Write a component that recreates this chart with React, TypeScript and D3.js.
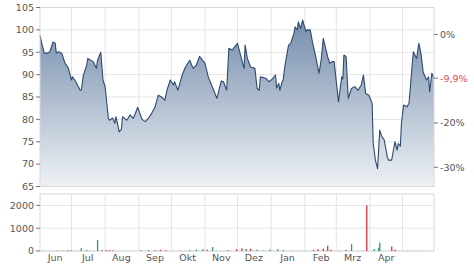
import React from "react";
import * as d3 from "d3";

const START = "2019-06-02";
const END = "2020-05-30";

// price series: day offset from START, price
const priceDays = [0,2,4,7,9,12,14,15,17,20,23,26,29,30,33,37,38,40,43,44,49,52,53,56,58,60,63,64,67,69,70,73,75,76,80,83,86,90,94,97,100,103,106,109,112,115,117,120,121,123,124,127,131,134,138,141,144,147,152,155,160,163,167,169,172,174,177,182,183,188,189,191,194,198,200,202,203,208,211,214,217,218,220,221,223,224,226,229,231,234,235,237,238,240,242,245,246,249,251,254,257,259,261,265,267,269,271,275,278,279,280,282,284,287,290,293,296,298,300,303,306,307,309,311,313,315,317,320,321,324,327,329,330,332,333,335,338,340,343,344,347,349,351,353,356,358,359,361,363];
const priceValues = [98.8,96.6,94.8,94.8,95.1,97.3,97,94.8,95.1,94.8,92.6,91.5,88.8,89.5,88.4,86.5,86.5,89.9,92.1,93.6,92.9,91.4,93.2,95,88.8,87.3,80.2,79.8,80.3,79.1,80.6,77.2,77.8,80.6,79.8,81,80.2,82.7,80,79.5,80.3,81.4,82.8,85.4,85,84.3,86.5,88.8,88.4,87.7,88.4,86.5,89.9,91.7,93.2,91.4,92.1,94.1,92.5,89.5,86.5,84.7,88.6,88.4,86.5,95.9,95.5,97,96,91.4,96.6,93.7,91.7,91.4,86.9,86.5,89.5,89.2,88.4,89,89.9,87,88,86.5,88.4,88.8,92.5,96.6,97,99.2,100.7,100,101.8,100.3,102.2,99.6,100,100,97.3,94,90.3,93.2,98.1,94,92.5,92.9,92.9,83.9,89.5,89,94.4,94,84.7,86.9,87.3,86.5,87.7,89.9,85.8,85.4,83.6,74.6,70.9,69,77.6,76.1,75.5,71.6,70.9,70.9,75,73.1,74.6,74,79.1,83.2,82.8,83.6,92.5,95.1,93.6,97,94.7,90.6,88.8,89.5,86.2,90.3,89.2];

// volume series
const volDays = [3,16,21,26,29,38,43,53,57,61,64,67,93,100,106,111,116,129,138,144,150,154,159,173,181,186,190,194,200,206,212,219,224,232,238,245,252,256,261,265,268,276,282,287,301,308,312,313,324,327,338,346,351];
const volValues = [20,20,25,30,30,120,40,480,40,50,40,30,25,40,35,50,40,30,40,60,80,60,170,40,80,120,90,100,60,50,60,80,40,30,30,20,50,80,100,230,60,30,50,300,2000,80,140,370,200,60,20,25,20];
const volDir = ["n","d","n","d","d","u","u","u","d","d","d","d","d","u","d","d","d","n","u","u","u","d","u","d","d","d","u","d","u","n","u","u","u","n","n","n","d","d","d","d","d","n","u","u","d","u","u","u","d","d","n","n","n"];

const priceTicks = [65,70,75,80,85,90,95,100,105];
const volTicks = [0,1000,2000];
const pctTicks = [0,-20,-30];
const refPrice = 99;
const lastPct = -9.9;
const monthLabels = ["Jun","Jul","Aug","Sep","Okt","Nov","Dez","Jan","Feb","Mrz","Apr"];

const L = 40, R = 434;
const FONT = "DejaVu Sans, Verdana, sans-serif";

export default function App() {
  const start = new Date(START + "T00:00:00");
  const end = new Date(END + "T00:00:00");
  const x = d3.scaleTime().domain([start, end]).range([L, R]);
  const yP = d3.scaleLinear().domain([65, 105]).range([186.5, 7.5]);
  const yV = d3.scaleLinear().domain([0, 2500]).range([251, 194]);

  const pts = priceDays.map((d, i) => ({ date: d3.timeDay.offset(start, d), v: priceValues[i] }));
  const line = d3.line<any>().x(p => x(p.date)).y(p => yP(p.v));
  const area = d3.area<any>().x(p => x(p.date)).y0(yP(65)).y1(p => yP(p.v));

  const monthStarts = d3.timeMonth.range(d3.timeMonth.ceil(start), end);
  const labelDates = monthLabels.map((m, i) => new Date(2019, 5 + i, 16));

  const volColor: Record<string, string> = { u: "#2f9a63", d: "#e0323c", n: "#b8b8b8" };
  const grid = "#e4e4e4";
  const txt = "#555";

  return (
    <svg width={474} height={269} style={{ position: "absolute", left: 0, top: 0, background: "#fff" }} fontFamily={FONT}>
      <defs>
        <linearGradient id="ag" x1="0" y1="0" x2="0" y2="1" gradientUnits="userSpaceOnUse" {...{ x1: 0, y1: 10, x2: 0, y2: 187 }}>
          <stop offset="0" stopColor="#6f88a8" />
          <stop offset="1" stopColor="#eef1f5" />
        </linearGradient>
      </defs>
      {/* price panel grid */}
      {priceTicks.map(t => (
        <line key={"hg" + t} x1={L} x2={R} y1={yP(t)} y2={yP(t)} stroke={grid} strokeWidth={1} />
      ))}
      {monthStarts.map((m, i) => (
        <line key={"vg" + i} x1={x(m)} x2={x(m)} y1={yP(105)} y2={yP(65)} stroke={grid} strokeWidth={1} />
      ))}
      <path d={area(pts) || ""} fill="url(#ag)" />
      <path d={line(pts) || ""} fill="none" stroke="#2d4a6e" strokeWidth={1.1} strokeLinejoin="round" />
      <rect x={L} y={yP(105)} width={R - L} height={yP(65) - yP(105)} fill="none" stroke="#d8d8d8" strokeWidth={1} />
      {/* left price axis */}
      {priceTicks.map(t => (
        <g key={"pt" + t}>
          <line x1={L - 4} x2={L} y1={yP(t)} y2={yP(t)} stroke="#777" />
          <text x={L - 6} y={yP(t)} dy="0.35em" textAnchor="end" fontSize={9.5} fill={txt}>{t}</text>
        </g>
      ))}
      {/* right pct axis */}
      {pctTicks.map(p => (
        <g key={"pc" + p}>
          <line x1={R} x2={R + 4} y1={yP(refPrice * (1 + p / 100))} y2={yP(refPrice * (1 + p / 100))} stroke="#777" />
          <text x={R + 6} y={yP(refPrice * (1 + p / 100))} dy="0.35em" fontSize={9.5} fill={txt}>{(p < 0 ? "-" : "") + Math.abs(p) + "%"}</text>
        </g>
      ))}
      <line x1={R} x2={R + 4} y1={yP(refPrice * (1 + lastPct / 100))} y2={yP(refPrice * (1 + lastPct / 100))} stroke="#777" />
      <text x={R + 6} y={yP(refPrice * (1 + lastPct / 100))} dy="0.35em" fontSize={9.5} fill="#e0474c">{"-" + String(Math.abs(lastPct)).replace(".", ",") + "%"}</text>

      {/* volume panel */}
      {volTicks.map(t => (
        <line key={"vh" + t} x1={L} x2={R} y1={yV(t)} y2={yV(t)} stroke={grid} />
      ))}
      {monthStarts.map((m, i) => (
        <line key={"vv" + i} x1={x(m)} x2={x(m)} y1={yV(2500)} y2={yV(0)} stroke={grid} />
      ))}
      <rect x={L} y={yV(2500)} width={R - L} height={yV(0) - yV(2500)} fill="none" stroke="#d8d8d8" />
      {volDays.map((d, i) => {
        const xx = x(d3.timeDay.offset(start, d));
        return <rect key={"vb" + i} x={xx - 0.6} width={1.3} y={yV(volValues[i])} height={yV(0) - yV(volValues[i])} fill={volColor[volDir[i]]} />;
      })}
      {volTicks.map(t => (
        <g key={"vt" + t}>
          <line x1={L - 4} x2={L} y1={yV(t)} y2={yV(t)} stroke="#777" />
          <text x={L - 6} y={yV(t)} dy="0.35em" textAnchor="end" fontSize={9.5} fill={txt}>{t}</text>
        </g>
      ))}
      {monthLabels.map((m, i) => (
        <text key={"ml" + m} x={x(labelDates[i])} y={261} textAnchor="middle" fontSize={9.5} fill={txt}>{m}</text>
      ))}
    </svg>
  );
}
